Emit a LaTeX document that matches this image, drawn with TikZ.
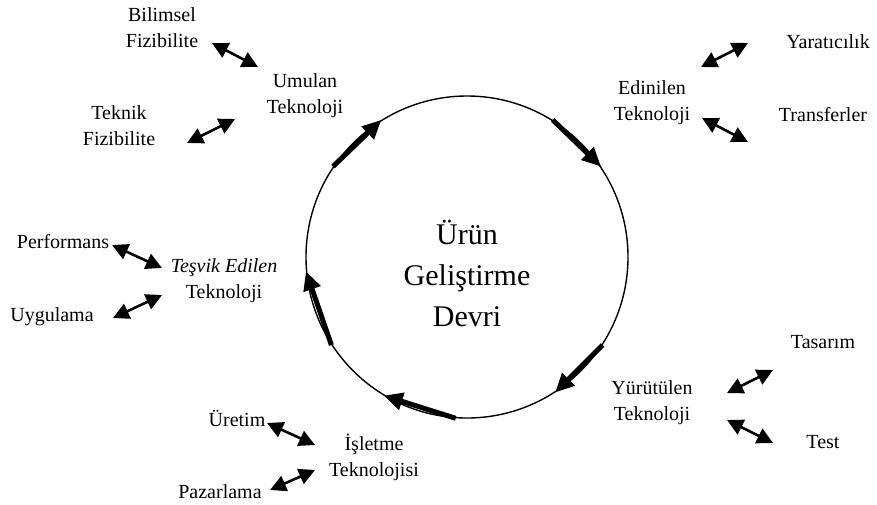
\documentclass[tikz,border=0pt]{standalone}
\usepackage{fontspec}
\setmainfont{Liberation Serif}
\usetikzlibrary{arrows.meta}
\begin{document}
\begin{tikzpicture}[x=1pt,y=-1pt,
  lbl/.style={font=\fontsize{20}{26}\selectfont, align=center, inner sep=0pt},
  link/.style={{Triangle[length=16pt,width=16pt]}-{Triangle[length=16pt,width=16pt]}, line width=2.6pt},
  flow/.style={-{Triangle[length=19pt,width=17pt]}, line width=5pt}]
\useasboundingbox (0,0) rectangle (877,504);

% the cycle
\node[circle, draw, line width=1.4pt, minimum size=322pt, inner sep=0pt] (cyc) at (467,257) {};
\node[font=\fontsize{30}{41}\selectfont, align=center, inner sep=0pt] (title) at (467,273) {Ürün\\Geliştirme\\Devri};

% flow arrows around the cycle
\draw[flow] (cyc.146) -- (cyc.122);
\draw[flow] (cyc.58) -- (cyc.34);
\draw[flow] (cyc.-33) -- (cyc.-57);
\draw[flow] (cyc.-94) -- (cyc.-121);
\draw[flow] (cyc.-147) -- (cyc.-175);

% technology stages
\node[lbl] (umu) at (305,96) {Umulan\\Teknoloji};
\node[lbl] (edi) at (652,103) {Edinilen\\Teknoloji};
\node[lbl] (yur) at (652,403) {Yürütülen\\Teknoloji};
\node[lbl] (isl) at (374,457) {İşletme\\Teknolojisi};
\node[lbl] (tes) at (224,281) {\textit{Teşvik Edilen}\\Teknoloji};

% related activities
\node[lbl] (bil) at (162,28) {Bilimsel\\Fizibilite};
\node[lbl] (tek) at (119,126) {Teknik\\Fizibilite};
\node[lbl] (yar) at (828,42) {Yaratıcılık};
\node[lbl] (tra) at (823,115) {Transferler};
\node[lbl] (tas) at (823,342) {Tasarım};
\node[lbl] (tst) at (823,442) {Test};
\node[lbl] (ure) at (237,418) {Üretim};
\node[lbl] (paz) at (220,492) {Pazarlama};
\node[lbl] (per) at (63,242) {Performans};
\node[lbl] (uyg) at (52,317) {Uygulama};

% arrow end points
\coordinate (bilA) at (212,43);  \coordinate (bilB) at (258,67);
\coordinate (tekA) at (187,143); \coordinate (tekB) at (235,119);
\coordinate (yarA) at (701,67);  \coordinate (yarB) at (748,43);
\coordinate (traA) at (702,118); \coordinate (traB) at (748,142);
\coordinate (tasA) at (727,393); \coordinate (tasB) at (773,370);
\coordinate (tstA) at (727,420); \coordinate (tstB) at (773,443);
\coordinate (ureA) at (267,423); \coordinate (ureB) at (315,445);
\coordinate (pazA) at (270,490); \coordinate (pazB) at (315,470);
\coordinate (perA) at (112,245); \coordinate (perB) at (162,268);
\coordinate (uygA) at (113,318); \coordinate (uygB) at (162,295);

\draw[link] (bilA) -- (bilB);
\draw[link] (tekA) -- (tekB);
\draw[link] (yarA) -- (yarB);
\draw[link] (traA) -- (traB);
\draw[link] (tasA) -- (tasB);
\draw[link] (tstA) -- (tstB);
\draw[link] (ureA) -- (ureB);
\draw[link] (pazA) -- (pazB);
\draw[link] (perA) -- (perB);
\draw[link] (uygA) -- (uygB);
\end{tikzpicture}
\end{document}
